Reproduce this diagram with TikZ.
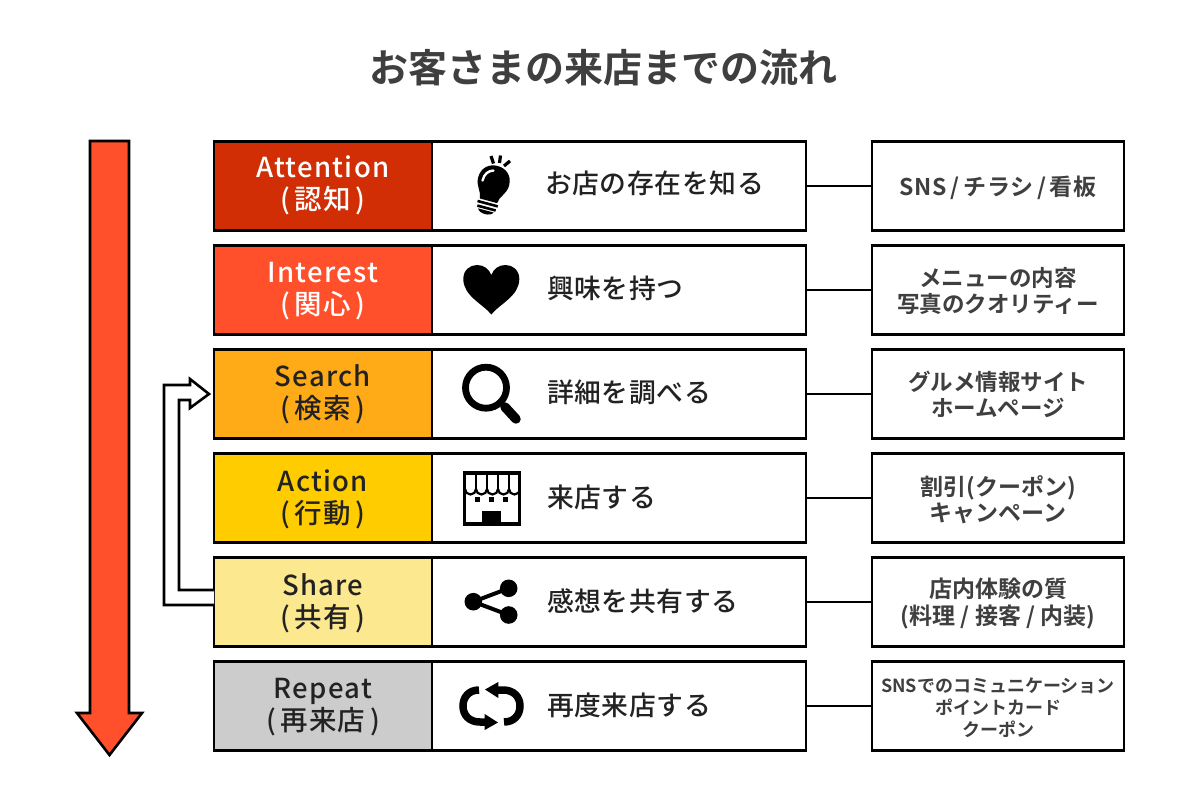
\documentclass[tikz,border=0pt]{standalone}
\usepackage{fontspec}
\usetikzlibrary{calc}
\setmainfont{Noto Sans CJK JP Medium}
\newfontfamily\labeljp{Noto Sans CJK JP Medium}[LetterSpace=4.5]
\newfontfamily\rowjp{Noto Sans CJK JP Medium}[LetterSpace=2.6]
\newfontfamily\boldjp{Noto Sans CJK JP Bold}
\newfontfamily\boldsp{Noto Sans CJK JP Bold}[LetterSpace=3]
\definecolor{cA}{HTML}{D12E05}
\definecolor{cB}{HTML}{FF4F2B}
\definecolor{cC}{HTML}{FFAB17}
\definecolor{cD}{HTML}{FFCC00}
\definecolor{cE}{HTML}{FCE88F}
\definecolor{cF}{HTML}{CCCCCC}
\definecolor{ink}{HTML}{222222}
\definecolor{soft}{HTML}{3F3F3F}
\tikzset{
  every node/.style={inner sep=0pt,outer sep=0pt},
  stage/.style={draw=black,line width=2.6pt,minimum width=218pt,minimum height=89pt,anchor=north west},
  stagetext/.style={align=center,text=ink,font=\labeljp\fontsize{27.5}{32}\selectfont},
  task/.style={draw=black,line width=2.6pt,minimum width=374pt,minimum height=89pt,anchor=north west,fill=white},
  tasktext/.style={anchor=west,text=ink,font=\rowjp\fontsize{26.8}{32}\selectfont},
  touch/.style={draw=black,line width=2.6pt,minimum width=252pt,minimum height=89pt,anchor=north west,fill=white},
  touchtext/.style={align=center,text=soft,font=\boldjp\fontsize{22.5}{26}\selectfont},
  link/.style={line width=2.6pt,draw=black}
}
\begin{document}
\begin{tikzpicture}[x=1pt,y=-1pt]
\useasboundingbox (0,0) rectangle (1200,800);
\fill[white] (0,0) rectangle (1200,800);
\node[text=soft,font=\boldjp\fontsize{39}{42}\selectfont] (title) at (603,68) {お客さまの来店までの流れ};
% big arrow
\draw[fill=cB,line width=2.6pt,line join=miter] (90,141) -- (129,141) -- (129,713) -- (142,713) -- (109.5,755) -- (77,713) -- (90,713) -- cycle;
% rows
\foreach \n/\y/\c in {1/141.5/cA,2/245.5/cB,3/349.5/cC,4/453.5/cD,5/557.5/cE,6/661.5/cF}{
  \node[stage,fill=\c] (s\n) at (214,\y) {};
  \node[task] (t\n) at (432,\y) {};
  \node[touch] (r\n) at (872,\y) {};
}
\node[stagetext,text=white] (l1) at ($(s1.center)+(0,-1)$) {Attention\\(\,認知\,)};
\node[stagetext,text=white] (l2) at ($(s2.center)+(0,1)$) {Interest\\(\,関心\,)};
\node[stagetext] (l3) at (s3.center) {Search\\(\,検索\,)};
\node[stagetext] (l4) at ($(s4.center)+(0,1)$) {Action\\(\,行動\,)};
\node[stagetext] (l5) at ($(s5.center)+(0,1)$) {Share\\(\,共有\,)};
\node[stagetext] (l6) at ($(s6.center)+(0,1)$) {Repeat\\(\,再来店\,)};
\node[tasktext] (x1) at (545,183) {お店の存在を知る};
\node[tasktext] (x2) at (547,288) {興味を持つ};
\node[tasktext] (x3) at (547,392) {詳細を調べる};
\node[tasktext] (x4) at (547,497) {来店する};
\node[tasktext] (x5) at (547,601) {感想を共有する};
\node[tasktext] (x6) at (547,705) {再度来店する};
\node[touchtext,font=\boldsp\fontsize{23}{26}\selectfont] (q1) at ($(r1.center)+(0,1.5)$) {SNS\,/\,チラシ\,/\,看板};
\node[touchtext] (q2) at ($(r2.center)+(0,1)$) {メニューの内容\\写真のクオリティー};
\node[touchtext] (q3) at (r3.center) {グルメ情報サイト\\ホームページ};
\node[touchtext,font=\boldjp\fontsize{23}{26}\selectfont] (q4) at ($(r4.center)+(0,2)$) {割引(クーポン)\\キャンペーン};
\node[touchtext,font=\boldjp\fontsize{23}{27}\selectfont] (q5) at ($(r5.center)+(0,2)$) {店内体験の質\\(料理 / 接客 / 内装)};
\node[touchtext,font=\boldjp\fontsize{18}{22}\selectfont] (q6) at ($(r6.center)+(0,2)$) {SNSでのコミュニケーション\\ポイントカード\\クーポン};
\foreach \n in {1,...,6}{ \draw[link] (t\n.east) -- (r\n.west); }
% feedback arrow
\draw[link,fill=white,line join=miter]
  ($(s5.west)+(0,3)$) -- ++(-50,0) |- ($(s3.west)+(-24,-9)$) -- ++(0,-6)
  -- ($(s3.west)+(-5,0)$) -- ($(s3.west)+(-24,14)$) -- ++(0,-8) -| ($(s5.west)+(-35,-12)$) -- ($(s5.west)+(0,-12)$);
% bulb
\begin{scope}[rotate around={-15:(490,195)}]
  \fill (481,201) .. controls (481,194) and (474,190) .. (474,181) .. controls (474,171) and (481,165) .. (490,165) .. controls (499,165) and (506,171) .. (506,181) .. controls (506,190) and (499,194) .. (499,201) -- cycle;
  \draw[white,line width=2.4pt,line cap=round] (479,183) .. controls (479,176) and (482,172) .. (487,170.5);
  \draw[line width=2.6pt] (479.5,204) -- (500.5,204) (480.5,208.5) -- (499.5,208.5);
  \fill (482,211) -- (498,211) .. controls (496,216) and (484,216) .. (482,211) -- cycle;
\end{scope}
\draw[line width=3.2pt] (491,156) -- (493.5,163.5) (500.5,155.5) -- (499.5,163) (510,161) -- (504,166);
% heart
\fill (491.3,314.5) .. controls (483,304) and (463.3,296) .. (463.3,279) .. controls (463.3,270) and (470,265) .. (477,265) .. controls (484,265) and (489,269) .. (491.3,275) .. controls (493.6,269) and (498.6,265) .. (505.6,265) .. controls (512.6,265) and (519.3,270) .. (519.3,279) .. controls (519.3,296) and (499.6,304) .. (491.3,314.5) -- cycle;
% magnifier
\draw[line width=6.8pt] (486,387.7) circle (20.5pt);
\draw[line width=4.5pt] (498,400) -- (505,407);
\draw[line width=9.5pt,line cap=round] (505,407) -- (516,419);
% store
\draw[line width=3.6pt] (464.5,473) rectangle (519.5,524);
\draw[line width=2.2pt] (465,489) \foreach \a in {0,1,2,3,4}{ arc[start angle=180,end angle=360,radius=5.5pt] } ;
\foreach \a in {475.7,486.7,497.7,508.7}{ \draw[line width=2.2pt] (\a,473) -- (\a,489); }
\foreach \a in {477.5,491.5,505.5}{ \fill (\a-2.7,497) rectangle (\a+2.7,502.4); }
\fill (482,511) rectangle (500.7,524);
% share
\draw[line width=4pt] (508.7,588.3) -- (473.3,601.7) -- (508.7,615);
\fill (473.3,601.7) circle (8.8pt) (508.7,588.3) circle (8.8pt) (508.7,615) circle (8.8pt);
% cycle
\foreach \r in {0,180}{
\begin{scope}[rotate around={\r:(491.5,706)}]
  \draw[line width=7.5pt] (496,690) -- (503,690) .. controls (514,690) and (520,697) .. (520,706) .. controls (520,715) and (514,722) .. (504,722);
  \fill (485,689.5) -- (498.3,682) -- (498.3,698) -- cycle;
\end{scope}}
\end{tikzpicture}
\end{document}
